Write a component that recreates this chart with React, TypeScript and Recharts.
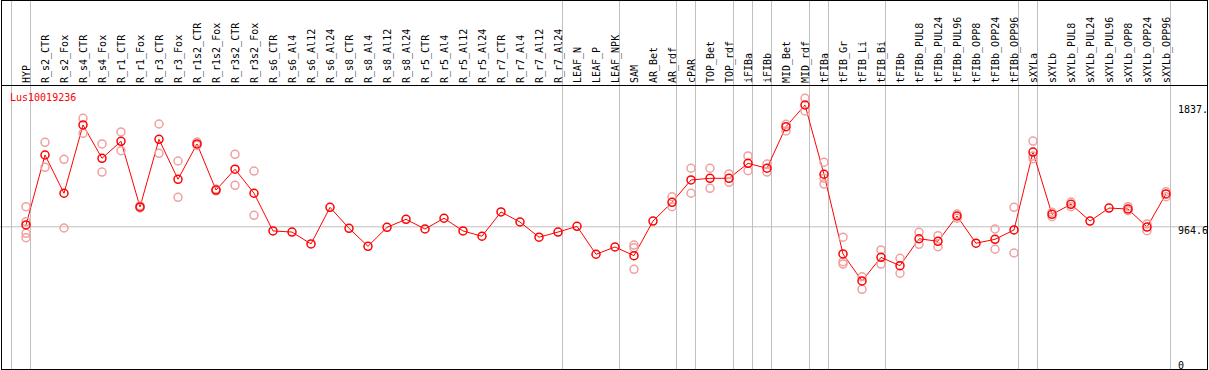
import React from 'react'
import { ComposedChart, Line, Scatter, XAxis, YAxis, ReferenceLine } from 'recharts';

const geneName = 'Lus10019236';

const categories = [
    'HYP', 'R_s2_CTR', 'R_s2_Fox', 'R_s4_CTR', 'R_s4_Fox', 'R_r1_CTR', 'R_r1_Fox', 'R_r3_CTR', 'R_r3_Fox',
    'R_r1s2_CTR', 'R_r1s2_Fox', 'R_r3s2_CTR', 'R_r3s2_Fox', 'R_s6_CTR', 'R_s6_Al4', 'R_s6_Al12', 'R_s6_Al24',
    'R_s8_CTR', 'R_s8_Al4', 'R_s8_Al12', 'R_s8_Al24', 'R_r5_CTR', 'R_r5_Al4', 'R_r5_Al12', 'R_r5_Al24',
    'R_r7_CTR', 'R_r7_Al4', 'R_r7_Al12', 'R_r7_Al24', 'LEAF_N', 'LEAF_P', 'LEAF_NPK', 'SAM', 'AR_Bet', 'AR_rdf',
    'cPAR', 'TOP_Bet', 'TOP_rdf', 'iFIBa', 'iFIBb', 'MID_Bet', 'MID_rdf', 'tFIBa', 'tFIB_Gr', 'tFIB_Li', 'tFIB_Bi',
    'tFIBb', 'tFIBb_PUL8', 'tFIBb_PUL24', 'tFIBb_PUL96', 'tFIBb_OPP8', 'tFIBb_OPP24', 'tFIBb_OPP96',
    'sXYLa', 'sXYLb', 'sXYLb_PUL8', 'sXYLb_PUL24', 'sXYLb_PUL96', 'sXYLb_OPP8', 'sXYLb_OPP24', 'sXYLb_OPP96',
];

// mean expression per sample
const meanValues = [
    978, 1479, 1205, 1694, 1455, 1577, 1107, 1591, 1305, 1558,
    1228, 1377, 1205, 935, 927, 842, 1104, 954, 825, 961,
    1018, 949, 1026, 935, 897, 1071, 999, 890, 927, 968,
    768, 820, 758, 1006, 1140, 1300, 1312, 1312, 1419, 1384,
    1682, 1837, 1341, 770, 577, 746, 686, 879, 861, 1042,
    847, 875, 942, 1500, 1054, 1126, 1006, 1099, 1092, 963, 1200,
];

// individual replicates (empty = only the mean is visible)
const replicateValues: number[][] = [
    [1109, 1001, 918, 887], [1570, 1391], [1448, 956], [1742, 1634], [1558, 1357],
    [1644, 1510], [1115, 1100], [1701, 1491], [1436, 1176], [1572, 1548],
    [1235, 1221], [1484, 1262], [1364, 1047], [], [], [], [], [], [], [],
    [], [], [], [], [], [], [], [], [], [],
    [], [], [834, 815, 660], [], [1180, 1109], [1384, 1205], [1384, 1240], [1343, 1283], [1472, 1367], [1414, 1357],
    [1699, 1651], [1885, 1794], [1427, 1312, 1271], [890, 715, 698], [607, 517], [799, 698], [739, 632], [925, 839], [901, 822], [1056, 1026],
    [], [949, 804], [1104, 777], [1579, 1471, 1452], [1069, 1037], [1142, 1109], [], [], [1109, 1080], [985, 937], [1216, 1180],
];

// index of the last sample in each group (-1 = left edge)
const groupEnds = [-1, 0, 28, 31, 34, 35, 37, 38, 39, 41, 42, 45, 52, 53, 60];

const yTickValues = [0, 964.6, 1837];
const yTickLabels = ['0', '964.6', '1837.'];

const FONT = '"DejaVu Sans Mono", monospace';
const W = 1209;
const H = 370;
const STEP = 19;
const FIRST_X = 26;
const BOUNDARY_OFFSET = 4.5 / STEP;

function CategoryTick(props: any) {
    const { x, payload } = props;
    const label = categories[payload.value];
    if (label === undefined) return null;
    const tx = x + 3.5;
    const ty = 83;
    return (
        <text x={tx} y={ty} transform={`rotate(-90, ${tx}, ${ty})`} textAnchor="start"
            fontFamily={FONT} fontSize={10} fill="#000">
            {label}
        </text>
    );
}

function ValueTick(props: any) {
    const { y, payload } = props;
    const idx = yTickValues.indexOf(payload.value);
    return (
        <text x={1178} y={y + 7.5} textAnchor="start" fontFamily={FONT} fontSize={10} fill="#000">
            {yTickLabels[idx]}
        </text>
    );
}

export default function App() {
    const meanData = categories.map((name, i) => ({ idx: i, name, value: meanValues[i] }));
    const repData = replicateValues.flatMap((vals, i) => vals.map(v => ({ idx: i, value: v })));

    return (
        <div style={{ position: 'absolute', left: 0, top: 0, width: W, height: H, background: '#fff' }}>
            <ComposedChart width={W} height={H} data={meanData} margin={{ top: 0, right: 0, bottom: 0, left: 0 }}>
                <XAxis
                    dataKey="idx"
                    type="number"
                    orientation="top"
                    mirror
                    domain={[-FIRST_X / STEP, (W - FIRST_X) / STEP]}
                    allowDataOverflow
                    ticks={categories.map((_, i) => i)}
                    interval={0}
                    axisLine={false}
                    tickLine={false}
                    tick={<CategoryTick />}
                />
                <YAxis
                    type="number"
                    orientation="right"
                    mirror
                    domain={[-60.9, 2589]}
                    allowDataOverflow
                    ticks={yTickValues}
                    interval={0}
                    axisLine={false}
                    tickLine={false}
                    tick={<ValueTick />}
                />
                {groupEnds.map(k => (
                    <ReferenceLine key={`g${k}`} x={k + BOUNDARY_OFFSET} stroke="#c0c0c0" strokeWidth={1} />
                ))}
                <ReferenceLine y={964.6} stroke="#c0c0c0" strokeWidth={1} />
                <Scatter
                    data={repData}
                    dataKey="value"
                    isAnimationActive={false}
                    shape={(p: any) => (
                        <circle cx={p.cx} cy={p.cy} r={4} fill="none" stroke="#f0a0a0" strokeWidth={1.5} />
                    )}
                />
                <Line
                    dataKey="value"
                    type="linear"
                    stroke="#ff0000"
                    strokeWidth={1}
                    dot={{ r: 4, stroke: '#ff0000', strokeWidth: 1.5, fill: 'none' }}
                    activeDot={false}
                    isAnimationActive={false}
                />
            </ComposedChart>
            <svg width={W} height={H} style={{ position: 'absolute', left: 0, top: 0, pointerEvents: 'none' }}>
                <text x={10} y={101} fontFamily={FONT} fontSize={10} fill="#ff0000">{geneName}</text>
            </svg>
            <div style={{ position: 'absolute', left: 1, top: 85, width: 1207, height: 1, background: '#000' }} />
            <div style={{
                position: 'absolute', left: 1, top: 0, width: 1207, height: H,
                border: '1px solid #000', boxSizing: 'border-box', pointerEvents: 'none'
            }} />
        </div>
    );
}
